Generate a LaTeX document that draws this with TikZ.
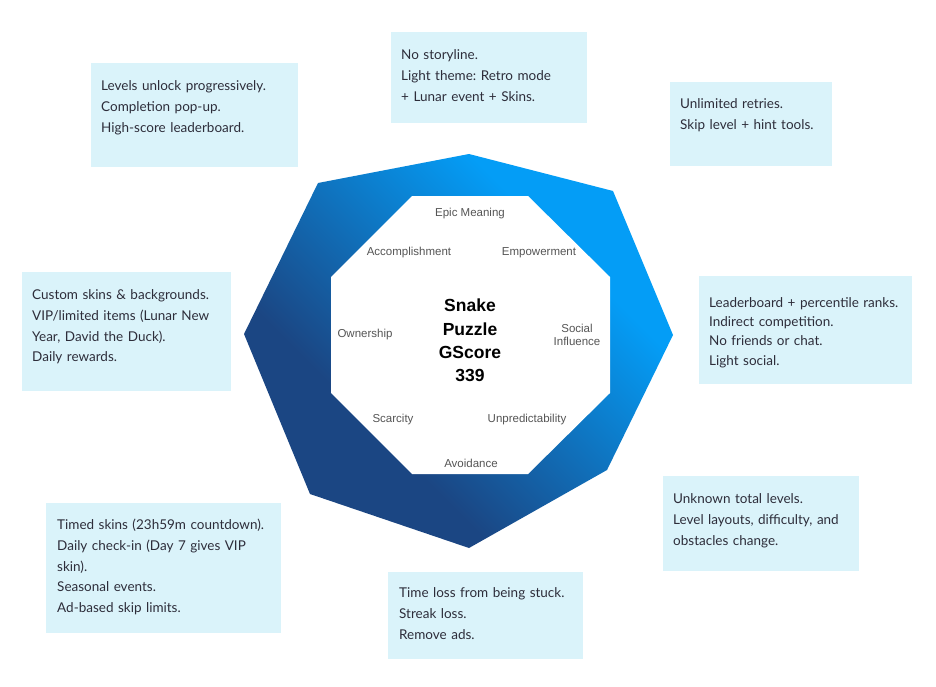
\documentclass[tikz,border=0pt]{standalone}
\usepackage{fontspec}
\setmainfont{Lato}
\newfontfamily\octfont{Liberation Sans}
\usetikzlibrary{calc}
\frenchspacing
\definecolor{boxfill}{HTML}{DAF3FA}
\definecolor{boxtext}{HTML}{2D2D3A}
\definecolor{labgray}{HTML}{555555}
\definecolor{brightb}{HTML}{049DF6}
\definecolor{darkb}{HTML}{1B4683}
\pgfdeclareverticalshading{octshade}{100bp}{color(0bp)=(darkb); color(36bp)=(darkb); color(68bp)=(brightb); color(100bp)=(brightb)}
\tikzset{
  infobox/.style={fill=boxfill, draw=none, anchor=north west, inner sep=0pt},
  infotext/.style={anchor=base west, inner sep=0pt, text width=260pt, align=left, text=boxtext, font=\fontsize{13.5}{20.8}\selectfont},
  octlabel/.style={inner sep=0pt, text=labgray, align=center, font=\octfont\fontsize{11.5}{13.5}\selectfont},
  titletext/.style={inner sep=0pt, align=center, text=black, font=\octfont\bfseries\fontsize{17.5}{23.2}\selectfont}
}
\begin{document}
\begin{tikzpicture}[x=1pt,y=-1pt]
\fill[white] (0,0) rectangle (936,687);
\useasboundingbox (0,0) rectangle (936,687);

% outer octagon
\coordinate (o1) at (469,154);
\coordinate (o2) at (613,191);
\coordinate (o3) at (673,335);
\coordinate (o4) at (607,470);
\coordinate (o5) at (469,548);
\coordinate (o6) at (310,494);
\coordinate (o7) at (244,334);
\coordinate (o8) at (318,183);
\shade[shading=octshade, shading angle=-45] (o1) -- (o2) -- (o3) -- (o4) -- (o5) -- (o6) -- (o7) -- (o8) -- cycle;

% inner octagon
\coordinate (i1) at (412,196);
\coordinate (i2) at (528,196);
\coordinate (i3) at (610,277);
\coordinate (i4) at (610,393);
\coordinate (i5) at (528,474);
\coordinate (i6) at (412,474);
\coordinate (i7) at (331,393);
\coordinate (i8) at (331,277);
\fill[white] (i1) -- (i2) -- (i3) -- (i4) -- (i5) -- (i6) -- (i7) -- (i8) -- cycle;

% labels
\node[octlabel] (epic) at (470,214) {Epic Meaning};
\node[octlabel] (acc) at (409,253) {Accomplishment};
\node[octlabel] (emp) at (539,253) {Empowerment};
\node[octlabel] (own) at (365,335) {Ownership};
\node[octlabel] (soc) at (577,335) {Social\\Influence};
\node[octlabel] (sca) at (393,420) {Scarcity};
\node[octlabel] (unp) at (527,420) {Unpredictability};
\node[octlabel] (avo) at (471,463) {Avoidance};
\node[titletext] (title) at (470,340.5) {Snake\\Puzzle\\GScore\\339};

% boxes
\node[infobox, minimum width=207pt, minimum height=104pt] (b1) at (91,63) {};
\node[infotext] (t1) at (101,90.5) {Levels unlock progressively.\\Completion pop-up.\\High-score leaderboard.};

\node[infobox, minimum width=196pt, minimum height=91pt] (b2) at (391,32) {};
\node[infotext] (t2) at (401,59.5) {No storyline.\\Light theme: Retro mode\\+ Lunar event + Skins.};

\node[infobox, minimum width=162pt, minimum height=84pt] (b3) at (670,82) {};
\node[infotext] (t3) at (680,108.5) {Unlimited retries.\\Skip level + hint tools.};

\node[infobox, minimum width=209pt, minimum height=119pt] (b4) at (22,272) {};
\node[infotext] (t4) at (32,299.5) {Custom skins \& backgrounds.\\VIP/limited items (Lunar New\\Year, David the Duck).\\Daily rewards.};

\node[infobox, minimum width=213pt, minimum height=108pt] (b5) at (699,276) {};
\node[infotext, font=\fontsize{13.5}{19.2}\selectfont] (t5) at (709,307.5) {Leaderboard + percentile ranks.\\Indirect competition.\\No friends or chat.\\Light social.};

\node[infobox, minimum width=235pt, minimum height=130pt] (b6) at (46,503) {};
\node[infotext] (t6) at (57,529.5) {Timed skins (23h59m countdown).\\Daily check-in (Day 7 gives VIP\\skin).\\Seasonal events.\\Ad-based skip limits.};

\node[infobox, minimum width=195pt, minimum height=87pt] (b7) at (388,572) {};
\node[infotext] (t7) at (399,597.5) {Time loss from being stuck.\\Streak loss.\\Remove ads.};

\node[infobox, minimum width=196pt, minimum height=95pt] (b8) at (663,476) {};
\node[infotext] (t8) at (673,503.5) {Unknown total levels.\\Level layouts, difficulty, and\\obstacles change.};
\end{tikzpicture}
\end{document}
